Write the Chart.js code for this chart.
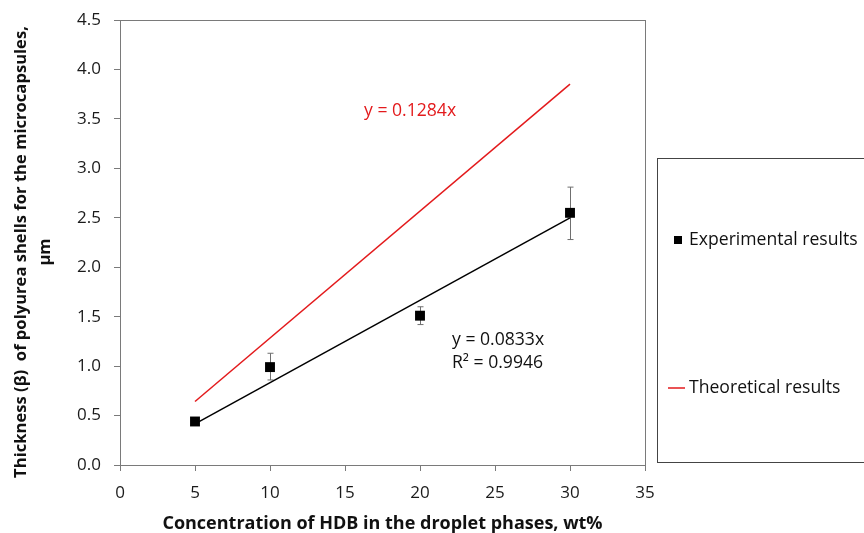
<!DOCTYPE html>
<html>
<head>
<meta charset="utf-8">
<script src="https://cdn.jsdelivr.net/npm/chart.js@4.4.1/dist/chart.umd.min.js"></script>
<style>
  html, body { margin: 0; padding: 0; background: #fff; }
  #wrap { width: 864px; height: 533px; }
</style>
</head>
<body>
<div id="wrap"><canvas id="chart" width="864" height="533"></canvas></div>
<script>
// values
const concentrations = [5, 10, 20, 30];
const thickness = [0.44, 0.99, 1.51, 2.55];
const errLow = [0.42, 0.86, 1.42, 2.28];
const errHigh = [0.46, 1.13, 1.60, 2.81];

// trend lines (end points)
const fitX = [5, 30];
const expFitY = [0.4165, 2.499];
const theoFitY = [0.642, 3.852];

const xTitle = 'Concentration of HDB in the droplet phases, wt%';
const yTitle = ['Thickness (β)  of polyurea shells for the microcapsules,', 'μm'];

const FONT = "'Open Sans', sans-serif";

function toPoints(xs, ys) {
  return xs.map((x, i) => ({ x, y: ys[i] }));
}

// error bars, plot frame, axis titles, equations and the boxed legend
const extras = {
  id: 'extras',
  beforeDatasetsDraw(chart) {
    const { ctx, scales: { x, y } } = chart;
    ctx.save();
    ctx.strokeStyle = '#6f6f6f';
    ctx.lineWidth = 1;
    concentrations.forEach((c, i) => {
      const px = Math.round(x.getPixelForValue(c)) + 0.5;
      const top = y.getPixelForValue(errHigh[i]);
      const bot = y.getPixelForValue(errLow[i]);
      ctx.beginPath();
      ctx.moveTo(px, top); ctx.lineTo(px, bot);
      ctx.moveTo(px - 3, top); ctx.lineTo(px + 3, top);
      ctx.moveTo(px - 3, bot); ctx.lineTo(px + 3, bot);
      ctx.stroke();
    });
    ctx.restore();
  },
  afterDraw(chart) {
    const { ctx, chartArea: a } = chart;
    ctx.save();
    ctx.strokeStyle = '#7a7a7a';
    ctx.lineWidth = 1;
    ctx.strokeRect(Math.round(a.left) + 0.5, Math.round(a.top) + 0.5,
      Math.round(a.right - a.left), Math.round(a.bottom - a.top));

    // axis titles
    ctx.fillStyle = '#111';
    ctx.textAlign = 'center';
    ctx.textBaseline = 'middle';
    ctx.font = 'bold 18px ' + FONT;
    ctx.fillText(xTitle, (a.left + a.right) / 2, 524);
    ctx.save();
    ctx.translate(0, 252);
    ctx.rotate(-Math.PI / 2);
    ctx.font = 'bold 16.6px ' + FONT;
    ctx.fillText(yTitle[0], 0, 21);
    ctx.fillText(yTitle[1], 0, 45);
    ctx.restore();

    ctx.textAlign = 'left';
    ctx.font = '17.6px ' + FONT;
    ctx.fillStyle = '#e31a1c';
    ctx.fillText('y = 0.1284x', 364, 111);
    ctx.fillStyle = '#111';
    ctx.fillText('y = 0.0833x', 452, 340);
    ctx.fillText('R² = 0.9946', 452, 363);

    // legend box
    ctx.strokeStyle = '#444';
    ctx.strokeRect(657.5, 158.5, 220, 304);
    ctx.fillStyle = '#000';
    ctx.fillRect(674, 236, 8, 8);
    ctx.fillStyle = '#111';
    ctx.fillText('Experimental results', 689, 240);
    ctx.strokeStyle = '#e31a1c';
    ctx.lineWidth = 1.5;
    ctx.beginPath();
    ctx.moveTo(668, 388); ctx.lineTo(685, 388);
    ctx.stroke();
    ctx.fillText('Theoretical results', 689, 388);
    ctx.restore();
  }
};

new Chart(document.getElementById('chart'), {
  type: 'scatter',
  data: {
    datasets: [
      {
        label: 'Experimental results',
        data: toPoints(concentrations, thickness),
        pointStyle: 'rect',
        pointRadius: 7,
        backgroundColor: '#000',
        borderColor: '#000',
        borderWidth: 0,
        order: 1
      },
      {
        label: 'Linear fit',
        data: toPoints(fitX, expFitY),
        showLine: true,
        pointRadius: 0,
        borderColor: '#000',
        borderWidth: 1.5,
        order: 2
      },
      {
        label: 'Theoretical results',
        data: toPoints(fitX, theoFitY),
        showLine: true,
        pointRadius: 0,
        borderColor: '#e31a1c',
        borderWidth: 1.5,
        order: 3
      }
    ]
  },
  options: {
    responsive: false,
    animation: false,
    layout: { padding: { top: 20, right: 219, left: 0, bottom: 0 } },
    plugins: { legend: { display: false }, tooltip: { enabled: false } },
    scales: {
      x: {
        type: 'linear',
        min: 0,
        max: 35,
        afterFit: scale => { scale.height = 68; },
        ticks: { stepSize: 5, color: '#1a1a1a', font: { family: FONT, size: 17 }, padding: 12 },
        grid: { drawOnChartArea: false, tickLength: 6, color: '#7a7a7a' },
        border: { color: '#7a7a7a' }
      },
      y: {
        type: 'linear',
        min: 0,
        max: 4.5,
        afterFit: scale => { scale.width = 120; },
        ticks: {
          stepSize: 0.5,
          color: '#1a1a1a',
          font: { family: FONT, size: 17, lineHeight: 0.7 },
          padding: 13,
          callback: v => v.toFixed(1)
        },
        grid: { drawOnChartArea: false, tickLength: 6, color: '#7a7a7a' },
        border: { color: '#7a7a7a' }
      }
    }
  },
  plugins: [extras]
});
</script>
</body>
</html>
